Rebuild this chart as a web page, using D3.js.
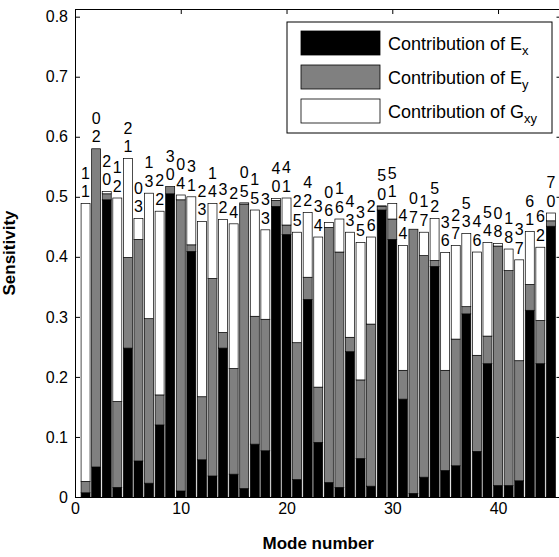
<!DOCTYPE html>
<html>
<head>
<meta charset="utf-8">
<script src="https://cdn.jsdelivr.net/npm/d3@7"></script>
<style>
    body { margin: 0; background: #fff; }
    text { font-family: "Liberation Sans", Arial, sans-serif; }
</style>
</head>
<body>
<div class="chart"></div>
<script>
// mode indices (m over n) written above each bar
const mIdx = [1, 0, 2, 1, 2, 0, 1, 2, 3, 0, 3, 2, 1, 3, 2, 0, 1, 3, 4, 4, 2, 4, 3, 0, 1, 4, 3, 2, 5, 5, 4, 0, 1, 5, 3, 2, 5, 4, 5, 0, 1, 3, 6, 6, 7];
const nIdx = [1, 2, 0, 2, 1, 3, 3, 2, 0, 4, 1, 3, 4, 2, 4, 5, 5, 3, 0, 1, 5, 2, 4, 6, 6, 3, 5, 6, 0, 1, 4, 7, 7, 2, 6, 7, 3, 6, 4, 8, 8, 7, 1, 2, 0];

// stacked contributions, mode 1..45
const exVals = [0.007, 0.050, 0.495, 0.016, 0.248, 0.060, 0.023, 0.120, 0.505, 0.010,
    0.409, 0.062, 0.035, 0.248, 0.038, 0.014, 0.088, 0.077, 0.484, 0.437,
    0.029, 0.329, 0.091, 0.024, 0.016, 0.242, 0.064, 0.018, 0.478, 0.429,
    0.163, 0.006, 0.033, 0.384, 0.044, 0.052, 0.305, 0.076, 0.222, 0.019,
    0.019, 0.027, 0.311, 0.222, 0.451];
const eyVals = [0.019, 0.530, 0.010, 0.143, 0.151, 0.369, 0.274, 0.050, 0.012, 0.485,
    0.011, 0.105, 0.329, 0.026, 0.176, 0.474, 0.213, 0.219, 0.010, 0.016,
    0.228, 0.037, 0.092, 0.425, 0.392, 0.024, 0.131, 0.270, 0.006, 0.034,
    0.048, 0.440, 0.369, 0.010, 0.167, 0.211, 0.012, 0.160, 0.046, 0.399,
    0.358, 0.200, 0.043, 0.072, 0.009];
const gxyVals = [0.463, 0.000, 0.004, 0.339, 0.165, 0.035, 0.209, 0.306, 0.000, 0.008,
    0.080, 0.292, 0.125, 0.188, 0.241, 0.002, 0.177, 0.149, 0.003, 0.045,
    0.184, 0.108, 0.250, 0.008, 0.055, 0.175, 0.229, 0.145, 0.001, 0.026,
    0.208, 0.000, 0.039, 0.070, 0.196, 0.156, 0.122, 0.172, 0.156, 0.004,
    0.036, 0.168, 0.088, 0.122, 0.013];

const xTicks = [0, 10, 20, 30, 40];
const yTicks = [0, 0.1, 0.2, 0.3, 0.4, 0.5, 0.6, 0.7, 0.8];
const seriesKeys = ['ex', 'ey', 'gxy'];
const seriesColors = ['#000000', '#808080', '#ffffff'];
const legendMain = ['Contribution of E', 'Contribution of E', 'Contribution of G'];
const legendSub = ['x', 'y', 'xy'];

const margin = { top: 9, left: 75, bottom: 60, right: 0 };
const width = 486.5;
const height = 488;

const rows = exVals.map((v, i) => ({
    mode: i + 1, ex: v, ey: eyVals[i], gxy: gxyVals[i], m: mIdx[i], n: nIdx[i]
}));

const svg = d3.select('.chart')
    .append('svg')
    .attr('width', 559)
    .attr('height', 557)
    .style('display', 'block')
    .append('g')
    .attr('transform', `translate(${margin.left}, ${margin.top})`);

// scales
const xScale = d3.scaleLinear().domain([0, 46]).range([0, width]);
const yScale = d3.scaleLinear().domain([0, 0.8128]).range([height, 0]);

// bars
const stacked = d3.stack().keys(seriesKeys)(rows);
const barW = 0.85;

svg.append('g')
    .selectAll('g')
    .data(stacked)
    .join('g')
    .attr('fill', (d, i) => seriesColors[i])
    .selectAll('rect')
    .data(d => d)
    .join('rect')
    .attr('x', d => xScale(d.data.mode - barW / 2))
    .attr('width', xScale(barW) - xScale(0))
    .attr('y', d => yScale(d[1]))
    .attr('height', d => yScale(d[0]) - yScale(d[1]))
    .attr('stroke', '#000')
    .attr('stroke-width', 0.7);

// mode labels
const labels = svg.append('g').attr('font-size', 16).attr('text-anchor', 'middle');
rows.forEach(r => {
    const top = yScale(r.ex + r.ey + r.gxy);
    labels.append('text').attr('x', xScale(r.mode)).attr('y', top - 6.3).text(r.n);
    labels.append('text').attr('x', xScale(r.mode)).attr('y', top - 24.8).text(r.m);
});

// axes
const styleAxis = g => {
    g.select('.domain').attr('stroke', '#000');
    g.selectAll('.tick line').attr('stroke', '#000');
    g.selectAll('text').attr('fill', '#000')
        .attr('font-size', 16)
        .attr('font-family', '"Liberation Sans", Arial, sans-serif');
};

svg.append('g')
    .attr('transform', `translate(0, ${height})`)
    .call(d3.axisBottom(xScale).tickValues(xTicks).tickSizeInner(-5).tickSizeOuter(0).tickPadding(6))
    .call(styleAxis);

svg.append('g')
    .call(d3.axisTop(xScale).tickValues(xTicks).tickSizeInner(-5).tickSizeOuter(0).tickFormat(''))
    .call(styleAxis);

svg.append('g')
    .call(d3.axisLeft(yScale).tickValues(yTicks).tickSizeInner(-5).tickSizeOuter(0).tickPadding(7)
        .tickFormat(d => d === 0 ? '0' : d3.format('.1f')(d)))
    .call(styleAxis);

svg.append('g')
    .attr('transform', `translate(${width}, 0)`)
    .call(d3.axisRight(yScale).tickValues(yTicks).tickSizeInner(-5).tickSizeOuter(0).tickFormat(''))
    .call(styleAxis);

// axis titles
svg.append('text')
    .attr('x', width / 2)
    .attr('y', height + 52)
    .attr('text-anchor', 'middle')
    .attr('font-size', 17)
    .attr('font-weight', 'bold')
    .text('Mode number');

svg.append('text')
    .attr('transform', `translate(${-60}, ${height / 2}) rotate(-90)`)
    .attr('text-anchor', 'middle')
    .attr('font-size', 17)
    .attr('font-weight', 'bold')
    .text('Sensitivity');

// legend
const legend = svg.append('g').attr('transform', 'translate(212, 13)');
legend.append('rect')
    .attr('width', 265).attr('height', 111)
    .attr('fill', '#fff').attr('stroke', '#000');

seriesKeys.forEach((k, i) => {
    const row = legend.append('g').attr('transform', `translate(0, ${9 + i * 34})`);
    row.append('rect')
        .attr('x', 14).attr('width', 79).attr('height', 24)
        .attr('fill', seriesColors[i]).attr('stroke', '#000').attr('stroke-width', 0.8);
    const t = row.append('text')
        .attr('x', 101).attr('y', 18.5)
        .attr('font-size', 18);
    t.append('tspan').text(legendMain[i]);
    t.append('tspan').attr('font-size', 13).attr('dy', 5).text(legendSub[i]);
});
</script>
</body>
</html>
